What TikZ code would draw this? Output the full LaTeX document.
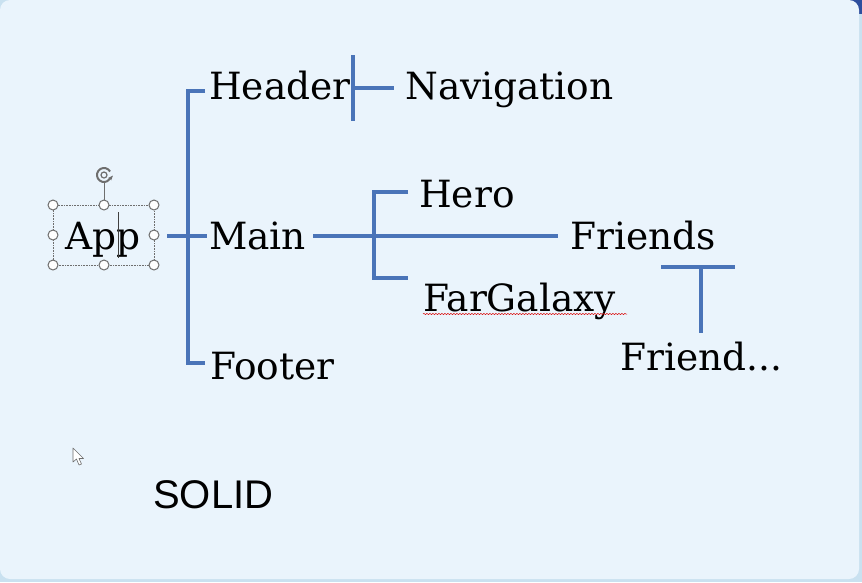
\documentclass[tikz,border=0pt]{standalone}
\usepackage{fontspec}
\setmainfont{DejaVu Serif}
\newfontfamily\slidesans{Liberation Sans}
\usetikzlibrary{decorations.pathmorphing,arrows.meta}
\definecolor{slidebg}{HTML}{EAF4FC}
\definecolor{outerbg}{HTML}{C9E1F0}
\definecolor{cornerblue}{HTML}{2E4E9E}
\definecolor{treeblue}{HTML}{4A74B8}
\definecolor{handlegray}{HTML}{6E6E6E}
\begin{document}
\begin{tikzpicture}[x=1pt,y=-1pt,
  bar/.style={treeblue,line width=3.2pt},
  lbl/.style={anchor=base west,inner sep=0pt,font=\fontsize{37.5}{42}\selectfont},
  handle/.style={circle,draw=handlegray,fill=white,line width=1pt,inner sep=0pt,minimum size=10pt}]
\useasboundingbox (0,0) rectangle (862,582);
\fill[outerbg] (0,0) rectangle (862,582);
\fill[cornerblue] (848,0) rectangle (862,14);
\fill[slidebg,rounded corners=10pt] (0,0) rectangle (859,579);
% labels
\node[lbl] (app) at (65,249) {App};
\node[lbl] (header) at (209,99) {Header};
\node[lbl] (navigation) at (405,99) {Navigation};
\node[lbl] (main) at (209,249) {Main};
\node[lbl] (footer) at (210,379) {Footer};
\node[lbl] (hero) at (419,207) {Hero};
\node[lbl] (friends) at (570,249) {Friends};
\node[lbl] (fargalaxy) at (423,311) {FarGalaxy};
\node[lbl] (friend) at (620,370) {Friend...};
\node[anchor=base west,inner sep=0pt,font=\slidesans\fontsize{40}{46}\selectfont] (solid) at (153,508) {SOLID};
% tree lines
\coordinate (appout) at (167,236);
\coordinate (mainin) at (207,236);
\coordinate (trunktop) at (188,91);
\coordinate (trunkbot) at (188,363);
\coordinate (headerin) at (205,91);
\coordinate (footerin) at (205,363);
\draw[bar] (appout) -- (mainin);
\draw[bar] (headerin) -- (trunktop) -- (trunkbot) -- (footerin);
\coordinate (navtop) at (353,55);
\coordinate (navbot) at (353,121);
\coordinate (navmid) at (353,88);
\coordinate (navin) at (394,88);
\draw[bar] (navtop) -- (navbot);
\draw[bar] (navmid) -- (navin);
\coordinate (mainout) at (313,236);
\coordinate (friendsin) at (558,236);
\coordinate (branchtop) at (374,192);
\coordinate (branchbot) at (374,278);
\coordinate (heroin) at (408,192);
\coordinate (galaxyin) at (408,278);
\draw[bar] (mainout) -- (friendsin);
\draw[bar] (heroin) -- (branchtop) -- (branchbot) -- (galaxyin);
\coordinate (tleft) at (661,267);
\coordinate (tright) at (735,267);
\coordinate (ttop) at (701,267);
\coordinate (tbot) at (701,333);
\draw[bar] (tleft) -- (tright);
\draw[bar] (ttop) -- (tbot);
% spelling mark
\draw[red!85!black,line width=0.5pt,decorate,decoration={snake,amplitude=0.6pt,segment length=3pt}] (423,314) -- (627,314);
% selection frame round App
\draw[handlegray,densely dotted,line width=0.6pt] (53,205) rectangle (154,265);
\draw[handlegray,line width=0.8pt] (104,205) -- (104,183);
\draw[handlegray,line width=2pt] (104,175) ++(30:7pt) arc[start angle=30,end angle=330,radius=7pt];
\draw[handlegray,line width=1.4pt,-{Stealth[length=5pt]}] (109,180) -- (113,175.5);
\draw[handlegray,line width=1.2pt] (104,175) circle (3pt);
\foreach \p in {(53,205),(104,205),(154,205),(53,235),(154,235),(53,265),(104,265),(154,265)}
  \node[handle] at \p {};
\draw[black!75,line width=0.8pt] (118,212) -- (118,258);
% mouse pointer
\draw[handlegray,fill=white,line width=0.6pt,line join=round] (73,448) -- (73,462) -- (76.5,459) -- (79,465) -- (81.5,464) -- (79,458.5) -- (83.5,458.5) -- cycle;
\end{tikzpicture}
\end{document}
